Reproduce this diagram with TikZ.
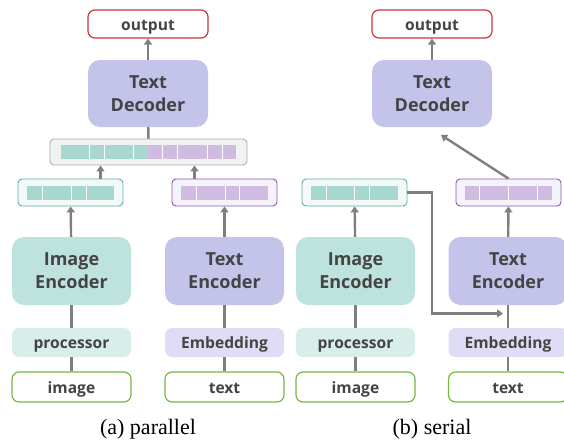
\documentclass[tikz,border=0pt]{standalone}
\usepackage{fontspec}
\setmainfont{Liberation Serif}
\newfontfamily\boxfont{Open Sans}
\usetikzlibrary{arrows.meta}
\definecolor{txtc}{HTML}{444444}
\definecolor{arrc}{HTML}{7F7F7F}
\definecolor{redc}{HTML}{C8373A}
\definecolor{grnc}{HTML}{75B843}
\definecolor{tealb}{HTML}{5DAE9F}
\definecolor{purb}{HTML}{8A55B8}
\definecolor{tealcell}{HTML}{A7D7CF}
\definecolor{purcell}{HTML}{CFBCE0}
\definecolor{decfill}{HTML}{C4C3EA}
\definecolor{encfill}{HTML}{BEE2DD}
\definecolor{procfill}{HTML}{D7EEEA}
\definecolor{embfill}{HTML}{DEDDF5}
\definecolor{tealtok}{HTML}{F3F9F8}
\definecolor{purtok}{HTML}{F4F2FB}
\definecolor{catfill}{HTML}{F1F3F2}
\definecolor{catb}{HTML}{A8ABAA}
\tikzset{
  big/.style={rounded corners=12pt, minimum width=119pt, minimum height=68pt,
    align=center, text=txtc, font=\boxfont\bfseries\fontsize{18}{23}\selectfont},
  small/.style={rounded corners=7pt, minimum width=119pt, minimum height=29pt,
    text height=12pt, text depth=0pt,
    text=txtc, font=\boxfont\bfseries\fontsize{15.6}{18}\selectfont},
  io/.style={small, draw=grnc, line width=1.2pt, fill=white, minimum height=30pt},
  outbox/.style={small, draw=redc, line width=1.2pt, fill=white, minimum width=120pt, minimum height=28pt},
  tok/.style={draw, rounded corners=4pt, line width=0.9pt, minimum width=105pt, minimum height=27pt},
  arr/.style={draw=arrc, line width=2.4pt, -{Triangle[length=6pt,width=8pt]}},
  ln/.style={draw=arrc, line width=2.4pt},
  caption/.style={anchor=base, font=\fontsize{22}{24}\selectfont}
}
\begin{document}
\begin{tikzpicture}[x=1pt, y=-1pt]
  \useasboundingbox (0,0) rectangle (564,439);
  % (a) parallel
  \node[outbox] (out_a) at (148,24) {output};
  \node[big, fill=decfill, minimum width=120pt, minimum height=67pt] (dec_a) at (148,93.5) {Text\\Decoder};
  \node[tok, draw=catb, fill=catfill, minimum width=197pt, minimum height=26pt] (cat) at (148.5,152) {};
  \fill[tealcell] (61,145) rectangle (148,159);
  \fill[purcell] (148,145) rectangle (236,159);
  \foreach \x in {89,104,133,162,177,207,222} \draw[white, line width=1pt] (\x,145) -- (\x,159);
  \node[tok, draw=tealb, fill=tealtok] (tokI_a) at (70.5,192.5) {};
  \fill[tealcell] (27,186) rectangle (114,200);
  \foreach \x in {42,71,86} \draw[white, line width=1pt] (\x,186) -- (\x,200);
  \node[tok, draw=purb, fill=purtok] (tokT_a) at (224.5,192.5) {};
  \fill[purcell] (181,186) rectangle (268,200);
  \foreach \x in {196,225,239} \draw[white, line width=1pt] (\x,186) -- (\x,200);
  \node[big, fill=encfill] (encI_a) at (71.5,271) {Image\\Encoder};
  \node[big, fill=decfill] (encT_a) at (224.5,271) {Text\\Encoder};
  \node[small, fill=procfill] (proc_a) at (71.5,342.5) {processor};
  \node[small, fill=embfill] (emb_a) at (224.5,342.5) {Embedding};
  \node[io] (img_a) at (71.5,387) {image};
  \node[io] (txt_a) at (224.5,387) {text};
  \node[caption] (cap_a) at (148,434) {(a) parallel};
  \draw[ln] (img_a) -- (proc_a);
  \draw[ln] (proc_a) -- (encI_a);
  \draw[arr] (encI_a) -- (tokI_a);
  \draw[ln] (txt_a) -- (emb_a);
  \draw[ln] (emb_a) -- (encT_a);
  \draw[arr] (encT_a) -- (tokT_a);
  \draw[arr] ([xshift=30pt]tokI_a.north) -- ([xshift=30pt]tokI_a.north |- cat.south);
  \draw[arr] ([xshift=-30pt]tokT_a.north) -- ([xshift=-30pt]tokT_a.north |- cat.south);
  \draw[ln] (cat) -- (dec_a);
  \draw[arr] (dec_a) -- (out_a);
  % (b) serial
  \node[outbox] (out_b) at (432,24) {output};
  \node[big, fill=decfill, minimum width=120pt, minimum height=67pt] (dec_b) at (432,93.5) {Text\\Decoder};
  \node[tok, draw=tealb, fill=tealtok] (tokI_b) at (354.5,192.5) {};
  \fill[tealcell] (311,186) rectangle (398,200);
  \foreach \x in {326,354,369} \draw[white, line width=1pt] (\x,186) -- (\x,200);
  \node[tok, draw=purb, fill=purtok] (tokT_b) at (508.5,192.5) {};
  \fill[purcell] (465,186) rectangle (552,200);
  \foreach \x in {479,508,537} \draw[white, line width=1pt] (\x,186) -- (\x,200);
  \node[big, fill=encfill] (encI_b) at (355.5,271) {Image\\Encoder};
  \node[big, fill=decfill] (encT_b) at (508,271) {Text\\Encoder};
  \node[small, fill=procfill] (proc_b) at (355.5,342.5) {processor};
  \node[small, fill=embfill] (emb_b) at (508,342.5) {Embedding};
  \node[io] (img_b) at (355.5,387) {image};
  \node[io] (txt_b) at (508,387) {text};
  \node[caption] (cap_b) at (432,434) {(b) serial};
  \coordinate (dec_in) at (441,135);
  \coordinate (bend) at (432,192.5);
  \coordinate (join) at (503,313.5);
  \draw[ln] (img_b) -- (proc_b);
  \draw[ln] (proc_b) -- (encI_b);
  \draw[arr] (encI_b) -- (tokI_b);
  \draw[ln] (txt_b) -- (emb_b);
  \draw[ln] (emb_b) -- (encT_b);
  \draw[arr] (encT_b) -- (tokT_b);
  \draw[arr] (tokI_b.east) -- (bend) |- (join);
  \draw[arr] (tokT_b.north) -- (dec_in);
  \draw[arr] (dec_b) -- (out_b);
\end{tikzpicture}
\end{document}
